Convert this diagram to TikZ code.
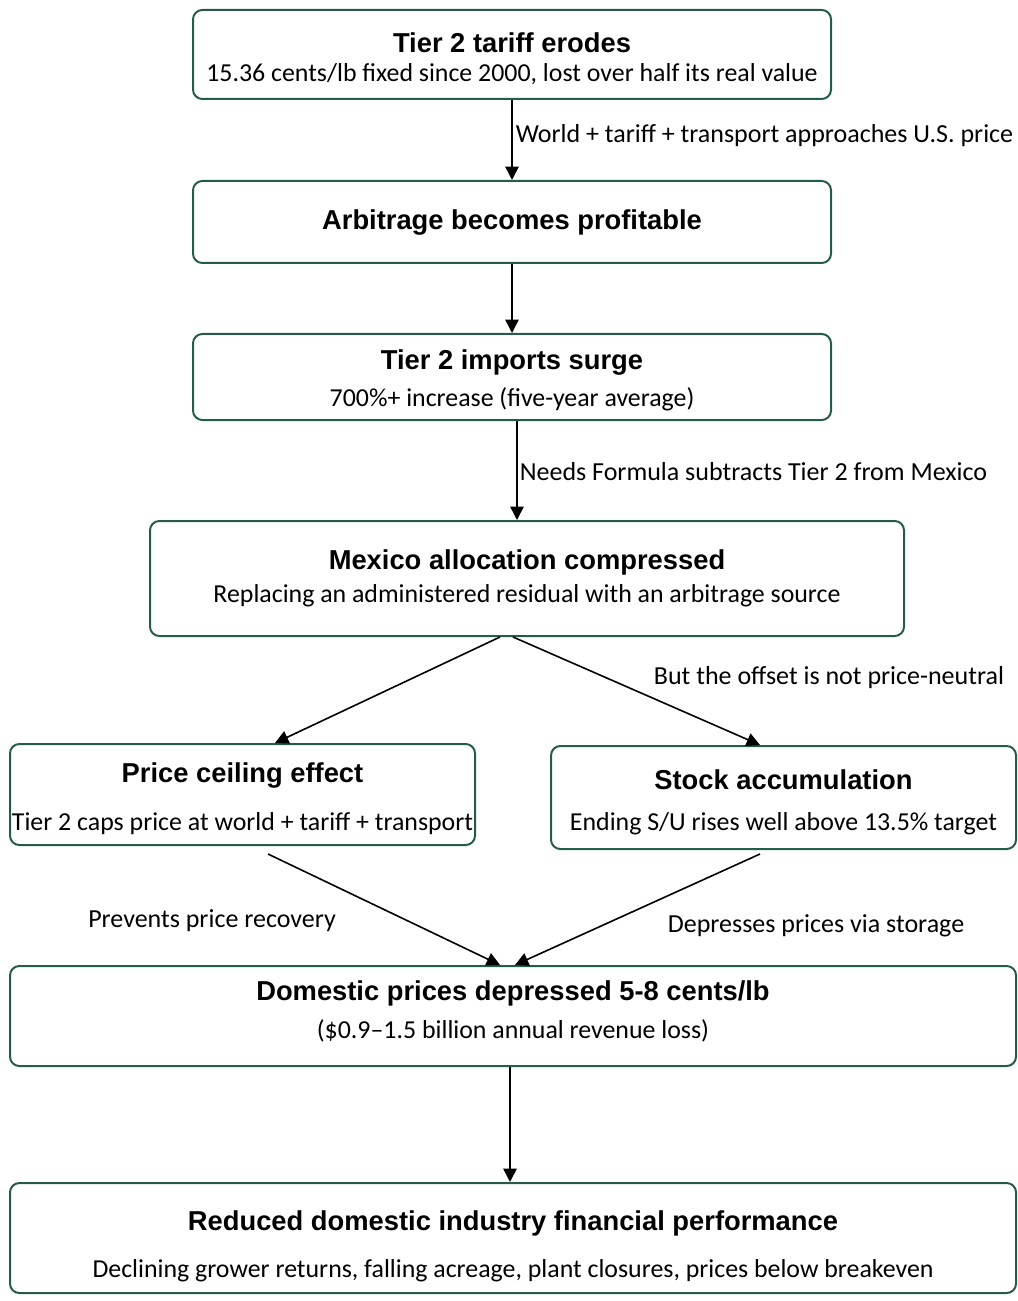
\documentclass[tikz,border=0pt]{standalone}
\usepackage{fontspec}
\setmainfont{Carlito}
\newfontfamily\headfont{Liberation Sans}
\usetikzlibrary{arrows.meta,calc}
\definecolor{boxgreen}{RGB}{36,92,72}
\tikzset{box/.style={draw=boxgreen, line width=1.5pt, rounded corners=7pt, align=center, inner sep=0pt, font=\fontsize{19.4}{23.5}\selectfont}}
\tikzset{lbl/.style={font=\fontsize{19.5}{23.5}\selectfont, inner sep=0pt}}
\newcommand{\hd}[1]{{\headfont\bfseries\fontsize{20.5}{23.5}\selectfont #1}}

\begin{document}
\begin{tikzpicture}[x=0.75pt, y=-0.75pt, ->, >={Triangle[width=10pt,length=10pt]}, line width=1.2pt]
\useasboundingbox (0,0) rectangle (1017,1301);
\node[box, minimum width=478.5pt, minimum height=66.75pt] (erode) at (512,54.5) {\rule{0pt}{21pt}\hd{Tier 2 tariff erodes}\\[-1.75pt] 15.36 cents/lb fixed since 2000, lost over half its real value};
\node[box, minimum width=478.5pt, minimum height=61.5pt] (arb) at (512,222) {\hd{Arbitrage becomes profitable}};
\node[box, minimum width=478.5pt, minimum height=64.5pt] (surge) at (512,377) {\rule{0pt}{19.5pt}\hd{Tier 2 imports surge}\\[4.25pt] 700\%+ increase (five-year average)};
\node[box, minimum width=565.5pt, minimum height=86.25pt] (mex) at (527,578.5) {\hd{Mexico allocation compressed}\\[1.25pt] Replacing an administered residual with an arbitrage source};
\node[box, minimum width=348.75pt, minimum height=75.75pt] (ceil) at (242.5,794.5) {\rule{0pt}{21pt}\hd{Price ceiling effect}\\[12.5pt] Tier 2 caps price at world + tariff + transport};
\node[box, minimum width=348.75pt, minimum height=77.25pt] (stock) at (783.5,797.5) {\rule{0pt}{22.5pt}\hd{Stock accumulation}\\[7.25pt] Ending S/U rises well above 13.5\% target};
\node[box, minimum width=754.5pt, minimum height=75pt] (dom) at (513,1016) {\hd{Domestic prices depressed 5-8 cents/lb}\\[5pt] (\$0.9--1.5 billion annual revenue loss)\rule[-9.5pt]{0pt}{0pt}};
\node[box, minimum width=754.5pt, minimum height=82.5pt] (perf) at (513,1238) {\rule{0pt}{27pt}\hd{Reduced domestic industry financial performance}\\[11.75pt] Declining grower returns, falling acreage, plant closures, prices below breakeven};
% edge labels
\node[lbl, anchor=west] (l1) at (515,136) {World + tariff + transport approaches U.S. price};
\node[lbl, anchor=west] (l2) at (519,472) {Needs Formula subtracts Tier 2 from Mexico};
\node[lbl] (l3) at (829,678) {But the offset is not price-neutral};
\node[lbl] (l4) at (212,921) {Prevents price recovery};
\node[lbl] (l5) at (816,926) {Depresses prices via storage};
% arrows
\draw[->] (erode) -- (arb);
\draw[->] (arb) -- (surge);
\draw[->] ($(surge.south)+(5,0)$) -- ($(mex.north)+(-10,0)$);
\draw[->] ($(mex.south)+(-27,0)$) -- ($(ceil.north)+(32.5,0)$);
\draw[->] ($(mex.south)+(-14,0)$) -- ($(stock.north)+(-23.5,0)$);
\draw[->] ($(ceil.south)+(25.5,8)$) -- ($(dom.north)+(-13,0)$);
\draw[->] ($(stock.south)+(-23.5,4)$) -- ($(dom.north)+(2,0)$);
\draw[->] ($(dom.south)+(-3,0)$) -- ($(perf.north)+(-3,0)$);
\end{tikzpicture}
\end{document}
